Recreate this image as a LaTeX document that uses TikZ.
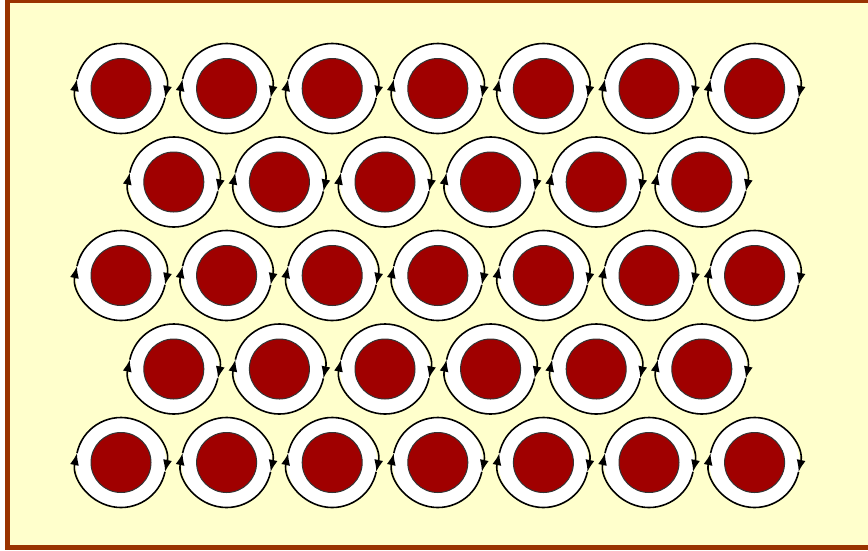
\documentclass[tikz,border=0pt]{standalone}
\usetikzlibrary{arrows.meta}
\definecolor{bg}{HTML}{FFFFCC}
\definecolor{frame}{HTML}{993300}
\definecolor{core}{HTML}{A00000}
\tikzset{
  ring/.style={circle, fill=white, minimum size=90pt, inner sep=0pt},
  coredisk/.style={circle, fill=core, draw=black!80, line width=1pt, minimum size=60pt, inner sep=0pt},
  spin/.style={line width=1.6pt, -{Latex[length=12pt,width=9pt]}}
}
\newcommand{\vortex}[3]{%
  \node[ring] (#1) at (#2,#3) {};
  \node[coredisk] (#1c) at (#2,#3) {};
  \draw[spin] (#1) ++(168:45pt) arc[start angle=168, end angle=-12, radius=45pt];
  \draw[spin] (#1) ++(-12:45pt) arc[start angle=-12, end angle=-192, radius=45pt];
}
\begin{document}
\begin{tikzpicture}[x=1pt,y=-1pt]
\useasboundingbox (0,0) rectangle (868,550);
\fill[white] (0,0) rectangle (868,550);
\draw[fill=bg, draw=frame, line width=5pt] (7.5,0.5) rectangle (872,547.5);
\foreach \r in {0,2,4} {
  \foreach \c in {0,...,6} {
    \pgfmathsetmacro{\xx}{121+105.6*\c}
    \pgfmathsetmacro{\yy}{88.5+93.5*\r}
    \vortex{v\r\c}{\xx}{\yy}
  }
}
\foreach \r in {1,3} {
  \foreach \c in {0,...,5} {
    \pgfmathsetmacro{\xx}{173.8+105.6*\c}
    \pgfmathsetmacro{\yy}{88.5+93.5*\r}
    \vortex{v\r\c}{\xx}{\yy}
  }
}
\end{tikzpicture}
\end{document}
